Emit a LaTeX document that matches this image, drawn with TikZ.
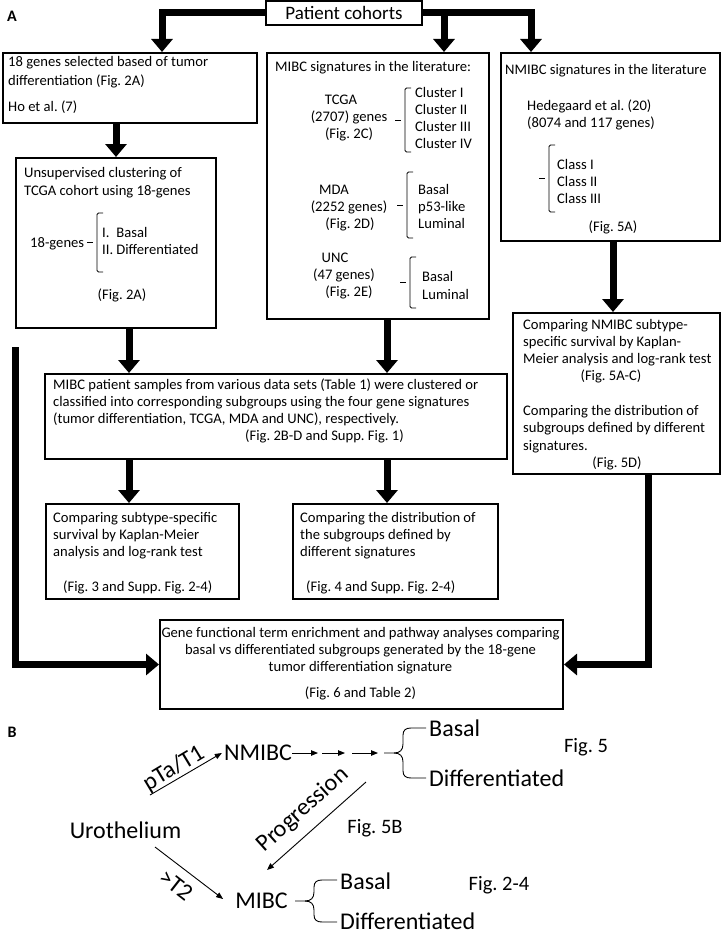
\documentclass[tikz,border=0pt]{standalone}
\usepackage{fontspec}
\setmainfont{Carlito}
\usetikzlibrary{arrows.meta,calc}
\frenchspacing
\newlength\calw
\settowidth\calw{\fontsize{10pt}{12pt}\selectfont MIBC patient samples from various data sets (Table 1) were clustered or}
\pgfmathsetmacro\bfs{10*425/\calw}
\newcommand\mybrace[6]{%
 \draw[line width=0.9pt] (#1,#3) -- (#2,#3)
  .. controls ({#2+6},#3) and ({#2+9},{#3-3}) .. ({#2+9},{#3-9})
  -- ({#2+9},{#4+7}) .. controls ({#2+9},{#4+2}) and ({#2+12},#4) .. ({#2+17},#4) -- (#6,#4);
 \draw[line width=0.9pt] (#2,#3)
  .. controls ({#2+6},#3) and ({#2+9},{#3+3}) .. ({#2+9},{#3+9})
  -- ({#2+9},{#5-7}) .. controls ({#2+9},{#5-2}) and ({#2+12},#5) .. ({#2+17},#5) -- (#6,#5);}
\newcommand\mybrk[4]{% x, top, bottom, dash y
 \draw[line width=0.8pt,rounded corners=1.5pt] ({#1+6},#2) -- (#1,#2) -- (#1,#3) -- ({#1+6},#3);
 \draw[line width=0.8pt] ({#1-10},#4) -- ({#1-4},#4);}
\begin{document}
\begin{tikzpicture}[x=1pt,y=-1pt,
 box/.style={draw,line width=2pt,inner sep=0pt,anchor=north west},
 big/.style={line width=7pt,-{Triangle[length=13pt,width=21pt]}},
 tx/.style={inner sep=0pt,anchor=base west,font=\fontsize{\bfs}{17.3}\selectfont},
 txc/.style={tx,anchor=base},
 bt/.style={inner sep=0pt,font=\fontsize{24}{28}\selectfont},
 ft/.style={inner sep=0pt,font=\fontsize{20.5}{24}\selectfont},
 tarr/.style={line width=0.9pt,-{Triangle[length=7pt,width=5.5pt]}},
 lab/.style={inner sep=0pt,font=\bfseries\fontsize{16}{19}\selectfont},
]
\useasboundingbox (0,0) rectangle (722,934);
% ---------- Part A ----------
\node[lab] (lA) at (12,16) {A};
\node[draw,line width=2pt,minimum width=156pt,minimum height=24pt,inner sep=0pt,
      font=\fontsize{19}{22}\selectfont] (pc) at (344,13) {Patient cohorts};

\node[box,minimum width=254pt,minimum height=70pt] (b1) at (2,52) {};
\node[box,minimum width=200pt,minimum height=170pt] (b2) at (15,157) {};
\node[box,minimum width=222pt,minimum height=266pt] (mi) at (266,52) {};
\node[box,minimum width=219pt,minimum height=188pt] (nm) at (500,52) {};
\node[box,minimum width=207pt,minimum height=161pt] (cp) at (512,312) {};
\node[box,minimum width=462pt,minimum height=85pt] (sa) at (44,373) {};
\node[box,minimum width=193pt,minimum height=95pt] (c1) at (45,503) {};
\node[box,minimum width=205pt,minimum height=95pt] (c2) at (292,503) {};
\node[box,minimum width=403pt,minimum height=89pt] (ge) at (159,619) {};

% thick arrows
\coordinate (m1) at ([xshift=66pt]mi.north);
\draw[big] (pc.west) -| ([xshift=32pt]b1.north);
\draw[big] (pc.east) -| ([xshift=-79.5pt]nm.north);
\draw[big] (m1 |- pc.east) -- (m1);
\draw[big] (b1.south -| b2.north) -- (b2.north);
\coordinate (a1) at ([xshift=13pt]b2.south);
\coordinate (a2) at ([xshift=9pt]mi.south);
\draw[big] (a1) -- (a1 |- sa.north);
\draw[big] (a2) -- (a2 |- sa.north);
\draw[big] (a1 |- sa.south) -- (a1 |- c1.north);
\draw[big] (a2 |- sa.south) -- (a2 |- c2.north);
\coordinate (a3) at ([xshift=2.5pt]nm.south);
\draw[big] (a3) -- (a3 |- cp.north);
\coordinate (ls) at (15,347);
\draw[big] (ls) |- (ge.west);
\coordinate (a4) at ([xshift=31.5pt]cp.south);
\draw[big] (a4) |- (ge.east);

% box 1
\node[tx] (t1) at (8,66.5) {18 genes selected based of tumor};
\node[tx] (t2) at (8,85) {differentiation (Fig. 2A)};
\node[tx] (t3) at (8,111.5) {Ho et al. (7)};
% box 2
\node[tx] (t4) at (24,177.5) {Unsupervised clustering of};
\node[tx] (t5) at (24,195.5) {TCGA cohort using 18-genes};
\node[tx] (t6) at (30,247.5) {18-genes};
\mybrk{97}{213}{272}{242.5}
\node[tx] (t7) at (102,237.5) {\makebox[14.2pt][l]{I.}Basal};
\node[tx] (t8) at (102,254.5) {\makebox[14.2pt][l]{II.}Differentiated};
\node[txc] (t9) at (122,299.5) {(Fig. 2A)};
% MIBC box
\node[tx] (m0) at (275,71.5) {MIBC signatures in the literature:};
\node[txc] (m1a) at (341,104.5) {TCGA};
\node[txc] (m1b) at (349,121.5) {(2707) genes};
\node[txc] (m1c) at (349,138.5) {(Fig. 2C)};
\mybrk{405}{88}{152}{120}
\node[tx] (m1d) at (415,97.5) {Cluster I};
\node[tx] (m1e) at (415,114.5) {Cluster II};
\node[tx] (m1f) at (415,131.5) {Cluster III};
\node[tx] (m1g) at (415,148.5) {Cluster IV};
\node[txc] (m2a) at (334,194.5) {MDA};
\node[txc] (m2b) at (349,211.5) {(2252 genes)};
\node[txc] (m2c) at (350,228.5) {(Fig. 2D)};
\mybrk{407}{172}{238}{205}
\node[tx] (m2d) at (418,194.5) {Basal};
\node[tx] (m2e) at (418,211.5) {p53-like};
\node[tx] (m2f) at (418,228.5) {Luminal};
\node[txc] (m3a) at (335,262.5) {UNC};
\node[txc] (m3b) at (344,279.5) {(47 genes)};
\node[txc] (m3c) at (349,296.5) {(Fig. 2E)};
\mybrk{410}{257}{308}{282.5}
\node[tx] (m3d) at (422,281.5) {Basal};
\node[tx] (m3e) at (422,299.5) {Luminal};
% NMIBC box
\node[tx] (n0) at (505,74.5) {NMIBC signatures in the literature};
\node[tx] (n1) at (527,110.5) {Hedegaard et al. (20)};
\node[tx] (n2) at (527,127.5) {(8074 and 117 genes)};
\mybrk{549}{145}{212}{178.5}
\node[tx] (n3) at (557,169.5) {Class I};
\node[tx] (n4) at (557,186.5) {Class II};
\node[tx] (n5) at (557,203.5) {Class III};
\node[txc] (n6) at (613,231.5) {(Fig. 5A)};
% NMIBC comparing box
\node[tx] (p1) at (523,329.5) {Comparing NMIBC subtype-};
\node[tx] (p2) at (523,346.5) {specific survival by Kaplan-};
\node[tx] (p3) at (523,363.5) {Meier analysis and log-rank test};
\node[txc] (p4) at (611,380.5) {(Fig. 5A-C)};
\node[tx] (p5) at (523,415.5) {Comparing the distribution of};
\node[tx] (p6) at (523,432.5) {subgroups defined by different};
\node[tx] (p7) at (523,450.5) {signatures.};
\node[txc] (p8) at (617,467.5) {(Fig. 5D)};
% samples box
\node[tx] (s1) at (53,389.5) {MIBC patient samples from various data sets (Table 1) were clustered or};
\node[tx] (s2) at (53,406.5) {classified into corresponding subgroups using the four gene signatures};
\node[tx] (s3) at (53,423.5) {(tumor differentiation, TCGA, MDA and UNC), respectively.};
\node[tx] (s4) at (245,440.5) {(Fig. 2B-D and Supp. Fig. 1)};
% comparing boxes
\node[tx] (q1) at (53,522.5) {Comparing subtype-specific};
\node[tx] (q2) at (53,539.5) {survival by Kaplan-Meier};
\node[tx] (q3) at (53,556.5) {analysis and log-rank test};
\node[tx] (q4) at (63,591.5) {(Fig. 3 and Supp. Fig. 2-4)};
\node[tx] (r1) at (300,522.5) {Comparing the distribution of};
\node[tx] (r2) at (300,539.5) {the subgroups defined by};
\node[tx] (r3) at (300,556.5) {different signatures};
\node[tx] (r4) at (306,591.5) {(Fig. 4 and Supp. Fig. 2-4)};
% gene box
\node[txc] (g1) at (360.5,637.5) {Gene functional term enrichment and pathway analyses comparing};
\node[txc] (g2) at (360.5,654.5) {basal vs differentiated subgroups generated by the 18-gene};
\node[txc] (g3) at (360.5,671.5) {tumor differentiation signature};
\node[txc] (g4) at (360.5,697.5) {(Fig. 6 and Table 2)};

% ---------- Part B ----------
\node[lab] (lB) at (12,732) {B};
\node[bt] (nmi) at (258,753) {NMIBC};
\node[bt] (uro) at (125.5,830) {Urothelium};
\node[bt] (mib) at (261.5,901) {MIBC};
\coordinate (p0) at (150,795);
\draw[tarr] (p0) -- ([xshift=-2pt]nmi.west);
\node[bt,rotate=31,anchor=base] (lpt) at (177,774) {pTa/T1};
\coordinate (u0) at (155,847);
\draw[tarr] (u0) -- ([xshift=-12pt,yshift=2pt]mib.west);
\node[bt,rotate=-38] (lt2) at (176,885) {>T2};
\coordinate (g0) at (366,782);
\coordinate (g9) at (267,870);
\draw[tarr] (g0) -- (g9);
\node[bt,rotate=42] (lpr) at (303,810) {Progression};
\node[ft] (f5b) at (375,828) {Fig. 5B};
\node[ft] (f5) at (586,747) {Fig. 5};
\node[ft] (f24) at (499,885) {Fig. 2-4};
% chain
\coordinate (k1) at (318,753);
\coordinate (k2) at (322,753);
\coordinate (k3) at (345,753);
\coordinate (k4) at (352,753);
\coordinate (k5) at (378,753);
\draw[tarr] (nmi.east) -- (k1);
\draw[tarr] (k2) -- (k3);
\draw[tarr] (k4) -- (k5);
\mybrace{384}{394}{753}{728}{778}{426}
\node[bt,anchor=west] (ub) at (429,728) {Basal};
\node[bt,anchor=west] (ud) at (429,778) {Differentiated};
\mybrace{295}{305}{901}{880}{922}{337}
\node[bt,anchor=west] (lb) at (340,881) {Basal};
\node[bt,anchor=west] (ld) at (340,921) {Differentiated};
\end{tikzpicture}
\end{document}
